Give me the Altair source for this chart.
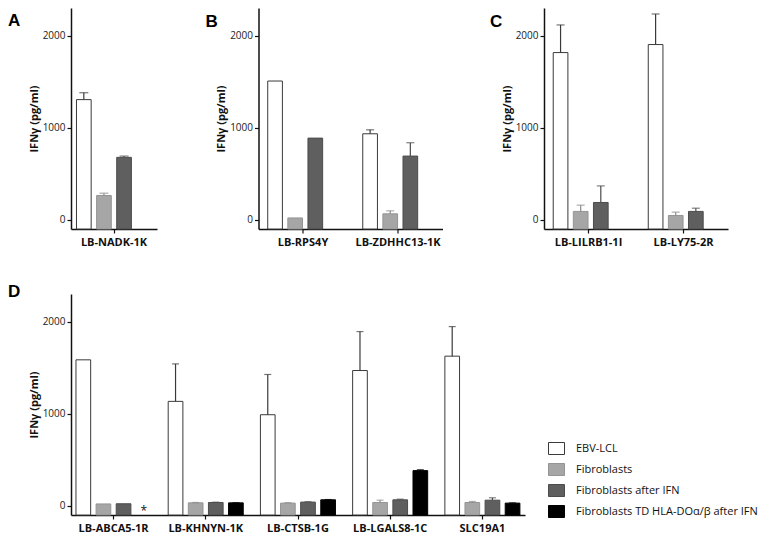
import altair as alt
import pandas as pd

SERIES = ["EBV-LCL", "Fibroblasts", "Fibroblasts after IFN",
          "Fibroblasts TD HLA-DOα/β after IFN"]
FILLS = ["#ffffff", "#a6a6a6", "#5f5f5f", "#000000"]
OUTLINES = ["#3a3a3a", "#949494", "#4c4c4c", "#000000"]
ERR_COLORS = ["#3a3a3a", "#8a8a8a", "#4c4c4c", "#000000"]

Y_TICKS = [0, 1000, 2000]
Y_DOMAIN = [-100, 2300]
Y_TITLE = "IFNγ (pg/ml)"

# Panel A
A_TARGETS = ["LB-NADK-1K"]
A_EBV = [1305]; A_EBV_ERR = [75]
A_FIB = [264]; A_FIB_ERR = [25]
A_IFN = [678]; A_IFN_ERR = [14]

# Panel B
B_TARGETS = ["LB-RPS4Y", "LB-ZDHHC13-1K"]
B_EBV = [1507, 934]; B_EBV_ERR = [0, 43]
B_FIB = [20, 65]; B_FIB_ERR = [0, 32]
B_IFN = [887, 692]; B_IFN_ERR = [0, 145]

# Panel C
C_TARGETS = ["LB-LILRB1-1I", "LB-LY75-2R"]
C_EBV = [1816, 1903]; C_EBV_ERR = [300, 332]
C_FIB = [91, 47]; C_FIB_ERR = [68, 36]
C_IFN = [188, 91]; C_IFN_ERR = [180, 35]

# Panel D
D_TARGETS = ["LB-ABCA5-1R", "LB-KHNYN-1K", "LB-CTSB-1G", "LB-LGALS8-1C", "SLC19A1"]
D_EBV = [1585, 1134, 989, 1469, 1625]; D_EBV_ERR = [0, 407, 437, 423, 321]
D_FIB = [20, 32, 29, 36, 36]; D_FIB_ERR = [0, 4, 5, 25, 11]
D_IFN = [22, 36, 40, 65, 61]; D_IFN_ERR = [0, 3, 4, 7, 26]
D_TD = [None, 32, 65, 382, 29]; D_TD_ERR = [0, 2, 3, 10, 3]
D_NOTE = ["*", "", "", "", ""]

FONT = "Open Sans"


def table(targets, rows):
    recs = []
    for s, means, errs in rows:
        for i, t in enumerate(targets):
            if means[i] is None:
                continue
            recs.append({"target": t, "series": s, "mean": means[i],
                         "err": errs[i], "upper": means[i] + errs[i]})
    return pd.DataFrame(recs)


def panel(df, targets, n_series, width, pad_in, pad_out, off_pad, cap,
          letter, ldx, ldy, legend=None, notes=None):
    series = SERIES[:n_series]
    x = alt.X("target:N", sort=targets, title=None,
              scale=alt.Scale(domain=targets, paddingInner=pad_in, paddingOuter=pad_out),
              axis=alt.Axis(labelAngle=0, labelFontWeight="bold", labelFontSize=11,
                            labelFont=FONT, labelColor="#111", labelPadding=3,
                            tickSize=4, domainWidth=1.5, domainColor="#111",
                            tickColor="#111", tickWidth=1.2))
    xo = alt.XOffset("series:N", sort=series,
                     scale=alt.Scale(domain=series, paddingInner=off_pad, paddingOuter=0))
    y_axis = alt.Axis(values=Y_TICKS, format="d", title=Y_TITLE, grid=False,
                      labelFontSize=10, labelFont=FONT, labelColor="#222",
                      labelPadding=2, tickSize=4, tickColor="#111", tickWidth=1.2,
                      domainWidth=1.5, domainColor="#111",
                      minExtent=28, maxExtent=28, titlePadding=4,
                      titleFont=FONT, titleFontSize=11, titleFontWeight="bold",
                      titleColor="#111")
    y = alt.Y("mean:Q", scale=alt.Scale(domain=Y_DOMAIN, nice=False, zero=False),
              axis=y_axis)
    fill = alt.Fill("series:N", scale=alt.Scale(domain=SERIES, range=FILLS), legend=legend)
    stroke = alt.Stroke("series:N", scale=alt.Scale(domain=SERIES, range=OUTLINES), legend=legend)
    errc = alt.Color("series:N", scale=alt.Scale(domain=SERIES, range=ERR_COLORS), legend=None)

    base = alt.Chart(df)
    bars = base.mark_bar(strokeWidth=1).encode(
        x=x, xOffset=xo, y=y, y2=alt.datum(Y_DOMAIN[0]), fill=fill, stroke=stroke)
    stems = base.transform_filter("datum.err > 0").mark_rule(strokeWidth=1.2).encode(
        x=x, xOffset=xo, y="mean:Q", y2="upper:Q", color=errc)
    caps = base.transform_filter("datum.err > 0").mark_tick(size=cap, thickness=1.2).encode(
        x=x, xOffset=xo, y="upper:Q", color=errc)
    tag = alt.Chart(pd.DataFrame({"letter": [letter]})).mark_text(
        align="left", baseline="top", fontSize=17, fontWeight="bold",
        font="Liberation Sans", color="#000").encode(
        x=alt.value(ldx), y=alt.value(ldy), text="letter:N")
    layers = [bars, stems, caps, tag]
    if notes is not None:
        ndf = pd.DataFrame({"target": targets, "series": [SERIES[3]] * len(targets),
                            "note": notes})
        txt = alt.Chart(ndf).transform_filter("datum.note != ''").mark_text(
            baseline="top", fontSize=12, font=FONT, color="#111").encode(
            x=x, xOffset=xo, y=alt.datum(0), text="note:N")
        layers.append(txt)
    return alt.layer(*layers).properties(width=width, height=221)


dfA = table(A_TARGETS, [(SERIES[0], A_EBV, A_EBV_ERR), (SERIES[1], A_FIB, A_FIB_ERR),
                        (SERIES[2], A_IFN, A_IFN_ERR)])
dfB = table(B_TARGETS, [(SERIES[0], B_EBV, B_EBV_ERR), (SERIES[1], B_FIB, B_FIB_ERR),
                        (SERIES[2], B_IFN, B_IFN_ERR)])
dfC = table(C_TARGETS, [(SERIES[0], C_EBV, C_EBV_ERR), (SERIES[1], C_FIB, C_FIB_ERR),
                        (SERIES[2], C_IFN, C_IFN_ERR)])
dfD = table(D_TARGETS, [(SERIES[0], D_EBV, D_EBV_ERR), (SERIES[1], D_FIB, D_FIB_ERR),
                        (SERIES[2], D_IFN, D_IFN_ERR), (SERIES[3], D_TD, D_TD_ERR)])

legend = alt.Legend(title=None, orient="none", legendX=477, legendY=146,
                    symbolType="M-1,-0.75H1V0.75H-1Z", symbolSize=256,
                    symbolStrokeWidth=1, labelFont=FONT, labelFontSize=11,
                    labelColor="#111", labelOffset=11, rowPadding=4, padding=0,
                    labelLimit=300)

pA = panel(dfA, A_TARGETS, 3, 86, 0.0, 0.073, 0.27, 9, "A", -63, 5)
pB = panel(dfB, B_TARGETS, 3, 184, 0.258, 0.097, 0.31, 8, "B", -53, 6)
pC = panel(dfC, C_TARGETS, 3, 184, 0.258, 0.097, 0.31, 8, "C", -54, 6)
pD = panel(dfD, D_TARGETS, 4, 454, 0.185, 0.054, 0.25, 7, "D", -63, -10,
           legend=legend, notes=D_NOTE)

top = alt.hconcat(pA, pB, pC, spacing=101.5, bounds="flush")
chart = alt.vconcat(top, pD, spacing=36).resolve_scale(
    fill="independent", stroke="independent", color="independent"
).properties(padding=0, background="white").configure_view(stroke=None)

chart.save("out.html", embed_options={"renderer": "svg", "actions": False})
